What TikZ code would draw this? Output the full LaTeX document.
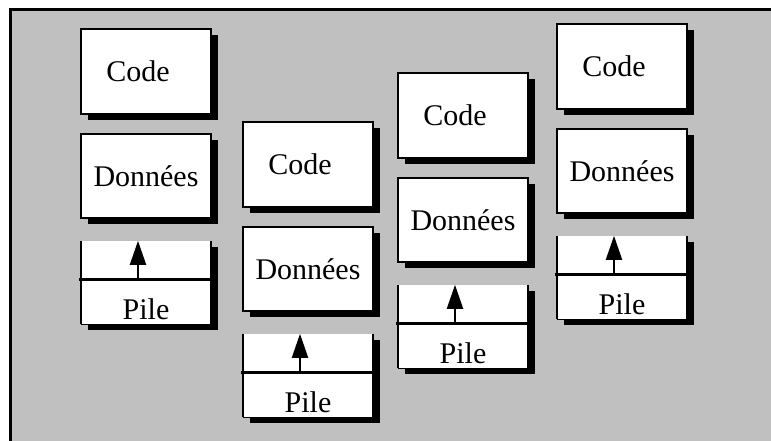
\documentclass[tikz,border=0pt]{standalone}
\usepackage{fontspec}
\setmainfont{Liberation Serif}
\usetikzlibrary{shadows,arrows.meta}
\definecolor{panelgray}{RGB}{192,192,192}
\begin{document}
\begin{tikzpicture}[x=1pt,y=-1pt,
  shadowed/.style={drop shadow={shadow xshift=7pt, shadow yshift=-6pt, fill=black, opacity=1}},
  box/.style={shadowed, draw=black, line width=1.3pt, fill=white, minimum width=130pt, inner sep=0pt, font=\fontsize{30}{36}\selectfont},
  codebox/.style={box, minimum height=85pt},
  databox/.style={box, minimum height=84pt},
  pilebox/.style={shadowed, fill=white, minimum width=130pt, minimum height=83pt, inner sep=0pt},
  pileside/.style={line width=2pt, line join=miter},
  pilemid/.style={line width=3pt},
  stackarrow/.style={line width=2pt, -{Triangle[length=24pt,width=16pt]}},
  piletext/.style={font=\fontsize{30}{36}\selectfont, inner sep=0pt, anchor=base},
  frame/.style={draw=black, line width=3pt, fill=panelgray}
]
\useasboundingbox (0,0) rectangle (771,441);
\clip (0,0) rectangle (771,441);
\draw[frame] (10.5,10) rectangle (800,470);
\foreach \i/\x/\T in {1/146/29, 2/308/122, 3/463/73, 4/622/24} {
  \node[codebox] (c\i) at (\x,\T+42.5) {Code\hspace*{16pt}};
  \node[databox] (d\i) at (\x,\T+147) {Donn\'ees};
  \node[pilebox] (p\i) at (\x,\T+253.5) {};
  \draw[pileside] (p\i.north west) -- (p\i.south west);
  \draw[pileside] (p\i.north east) -- (p\i.south east);
  \draw[line width=1.3pt] (p\i.south west) -- (p\i.south east);
  \coordinate (ml\i) at ([xshift=-2pt,yshift=-39pt]p\i.north west);
  \coordinate (mr\i) at ([yshift=-39pt]p\i.north east);
  \draw[pilemid] (ml\i) -- (mr\i);
  \coordinate (ab\i) at ([xshift=-8pt,yshift=-39pt]p\i.north);
  \coordinate (at\i) at ([xshift=-8pt]p\i.north);
  \draw[stackarrow] (ab\i) -- (at\i);
  \node[piletext] (t\i) at ([yshift=5pt]p\i.south) {Pile};
}
\end{tikzpicture}
\end{document}
